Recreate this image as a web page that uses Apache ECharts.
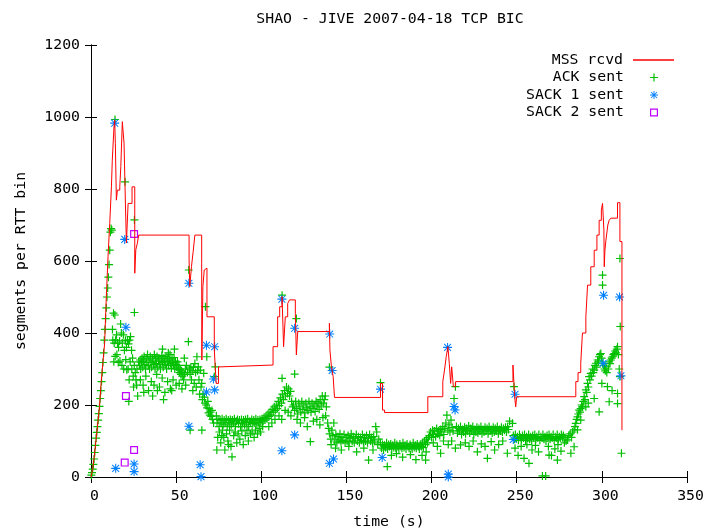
<!DOCTYPE html>
<html>
<head>
<meta charset="utf-8">
<script src="https://cdn.jsdelivr.net/npm/echarts@6/dist/echarts.min.js"></script>
<style>
  html, body { margin: 0; padding: 0; background: #fff; }
  #chart { width: 708px; height: 531px; }
</style>
</head>
<body>
<div id="chart"></div>
<script>
// data: [time (s), segments per RTT bin]
var mssRcvd = [
  [0,0],[1,22],[2,60],[3,105],[4,150],[5,196],[6,265],[7,318],[8,371],[9,501],[10,612],[11,704],
  [12,806],[12.5,880],[13.5,973],[13.9,992],[14.3,927],[14.9,769],[15.5,797],[16.9,806],[17.5,862],
  [18.4,987],[19.4,927],[20.2,761],[20.8,650],[21.8,760],[24.1,806],[25.7,566],[26.3,631],[27.2,649],
  [28.0,672],[57.6,603],[58.0,529],[59.0,584],[60.0,626],[61.0,672],[65.0,594],[65.1,325],[65.7,529],
  [66.5,575],[67.6,580],[68.1,445],[72.4,353],[73.5,260],[74.9,306],[76.3,311],[106.9,362],[109.6,445],
  [110.8,473],[112.2,501],[113.1,362],[114.1,445],[115.5,482],[116.6,492],[120.0,455],[120.6,339],
  [121.4,404],[140.0,427],[140.3,353],[141.2,306],[142.2,279],[143.0,221],[170.0,260],[171.2,186],
  [172.4,179],[197.8,223],[206.6,265],[207.6,297],[208.6,334],[209.6,362],[210.4,316],[211.2,260],
  [211.8,306],[212.8,251],[214.1,265],[247.8,311],[248.8,223],[249.4,195],[250.0,223],[284.7,265],
  [286.0,290],[287.6,316],[288.6,400],[290.6,445],[291.6,533],[293.5,584],[295.5,630],[297.1,672],
  [298.4,713],[299.7,742],[300.4,760],[301.2,686],[301.4,584],[301.8,630],[302.4,658],[303.5,700],
  [304.3,713],[305.3,719],[309.2,762],[310.6,654],[311.8,130]
];

var ackSent = [
  // slow start ramp
  [0.2,5],[0.6,12],[1.0,22],[1.4,35],[1.8,50],[2.2,68],[2.6,88],[3.0,108],[3.4,124],[3.8,140],
  [4.2,158],[4.6,176],[5.0,196],[5.4,218],[5.8,240],[6.2,265],[6.6,290],[7.0,318],[7.4,345],[7.8,380],
  [8.2,410],[8.6,440],[9.0,470],[9.4,500],[9.8,525],[10.2,555],[10.6,590],[11.0,630],[11.4,680],[11.8,690],
  [12.2,686],[14.1,993],[20.0,820],[25.5,714],[25.5,457],
  // 12-28 s
  [12.6,410],[13.2,455],[14.0,450],[12.8,380],[13.6,372],[14.4,380],[15.0,395],[15.6,372],[16.2,360],
  [16.8,378],[17.4,425],[17.8,400],[18.4,372],[19.0,395],[19.6,352],[20.2,380],[20.8,360],[21.4,378],
  [22.0,370],[22.6,380],[23.2,390],[23.8,352],[24.4,330],[13.4,320],[14.2,335],[15.2,340],[16.0,318],
  [17.0,322],[18.2,310],[19.2,300],[20.4,326],[21.0,298],[21.8,300],[22.4,270],[23.0,320],[24.0,300],
  [24.8,280],[25.4,310],[26.0,290],[26.8,255],[27.4,225],[22.2,210],[25.0,250],[26.4,270],[27.0,300],[28.0,320],
  // 28-55 s
  [28.4,310],[28.8,325],[29.2,300],[29.6,318],[30.0,330],[30.4,305],[30.8,322],[31.2,335],[31.6,312],
  [32.0,300],[32.4,328],[32.8,318],[33.2,340],[33.6,310],[34.0,325],[34.4,300],[34.8,335],[35.2,318],
  [35.6,305],[36.0,330],[36.4,322],[36.8,312],[37.2,340],[37.6,300],[38.0,328],[38.4,315],[38.8,335],
  [39.2,305],[39.6,322],[40.0,330],[40.4,312],[40.8,300],[41.2,325],[41.6,338],[42.0,318],[42.4,305],
  [42.8,330],[43.2,320],[43.6,312],[44.0,335],[44.4,300],[44.8,322],[45.2,330],[45.6,310],[46.0,325],
  [46.4,340],[46.8,315],[47.2,302],[47.6,328],[48.0,318],[48.4,310],[48.8,332],[49.2,300],[49.6,322],
  [50.0,312],[50.4,305],[50.8,320],[51.2,298],[51.6,310],[52.0,290],[52.4,300],[52.8,285],[53.2,295],
  [53.6,280],[54.0,290],[54.4,270],[55.0,285],
  [29.0,270],[30.6,255],[32.2,280],[33.8,240],[35.4,265],[37.0,255],[38.6,285],[40.2,250],[41.8,275],
  [43.4,235],[45.0,265],[46.6,245],[48.2,270],[50.0,255],[51.8,260],[53.4,245],[55.6,255],[31.0,235],
  [36.2,225],[39.0,240],[42.6,215],[47.4,240],[42.0,355],[45.4,345],[49.0,355],[54.8,330],
  // 55-74 s
  [55.4,300],[56.0,310],[56.6,290],[57.2,376],[57.4,575],[57.8,300],[58.2,285],[58.6,305],[59.0,270],
  [59.4,295],[59.8,240],[60.2,305],[60.6,260],[61.0,315],[61.4,290],[61.8,250],[62.2,334],[62.6,295],
  [63.0,306],[63.4,270],[63.8,230],[64.2,297],[64.6,250],[65.0,260],[65.4,215],[65.8,230],[66.2,288],
  [66.6,222],[67.0,205],[67.2,473],[67.6,200],[68.0,334],[68.2,192],[68.6,210],[69.0,178],[69.4,190],
  [69.8,172],[70.2,180],[70.6,168],[71.0,185],[71.4,160],[72.4,279],[73.0,306],[72.0,150],[58.2,130],
  [65.1,130],[73.6,170],
  // 74-101 s
  [74.0,150],[74.6,160],[75.2,140],[75.8,158],[76.4,150],[77.0,162],[77.6,145],[78.2,158],[78.8,150],
  [79.4,162],[80.0,140],[80.6,158],[81.2,152],[81.8,160],[82.4,145],[83.0,158],[83.6,150],[84.2,162],
  [84.8,140],[85.4,155],[86.0,160],[86.6,148],[87.2,158],[87.8,140],[88.4,160],[89.0,150],[89.6,158],
  [90.2,145],[90.8,160],[91.4,152],[92.0,162],[92.6,140],[93.2,155],[93.8,150],[94.4,160],[95.0,148],
  [95.6,158],[96.2,150],[96.8,162],[97.4,145],[98.0,158],[98.6,152],[99.2,160],[99.8,150],[100.4,162],
  [101.0,155],
  [74.4,110],[75.4,125],[76.2,95],[77.2,130],[78.0,110],[78.6,75],[79.6,120],[80.4,100],[81.4,130],
  [82.2,85],[82.8,56],[83.8,115],[84.6,125],[85.6,95],[86.4,120],[87.4,105],[88.6,128],[89.4,90],
  [90.6,115],[91.6,130],[92.4,100],[93.6,120],[94.6,125],[95.8,110],[96.6,130],[97.8,120],[98.8,135],
  [99.6,125],[100.8,140],[73.9,75],[76.8,115],[80.8,90],
  // 101-119 s
  [101.6,165],[102.2,158],[102.8,170],[103.4,162],[104.0,175],[104.6,168],[105.2,180],[105.8,172],
  [106.4,188],[107.0,180],[107.6,195],[108.2,185],[108.8,200],[109.4,190],[110.0,210],[110.6,198],
  [111.2,220],[111.8,205],[112.4,230],[113.0,215],[113.6,240],[114.2,225],[114.8,250],[115.4,232],
  [116.0,245],[116.6,225],[117.2,238],[117.8,210],[118.4,195],[104.4,140],[106.2,150],[108.0,160],
  [110.4,170],[112.0,160],[114.0,185],[115.8,180],[117.4,170],
  [112.2,505],[120.6,440],[112.2,274],[119.6,286],[128.8,98],
  // 119-140 s
  [119.0,200],[119.6,185],[120.2,210],[120.8,190],[121.4,175],[122.0,205],[122.6,195],[123.2,180],
  [123.8,210],[124.4,188],[125.0,200],[125.6,178],[126.2,205],[126.8,192],[127.4,185],[128.0,210],
  [128.6,195],[129.2,180],[129.8,205],[130.4,190],[131.0,200],[131.6,182],[132.2,210],[132.8,195],
  [133.4,205],[134.0,188],[134.6,215],[135.2,200],[135.8,225],[136.4,205],[137.0,215],[137.6,225],
  [138.2,195],[121.0,160],[123.0,150],[125.4,165],[127.0,140],[130.6,155],[132.6,160],[134.4,145],
  [136.2,165],[137.8,170],[139.0,150],[139.6,135],[140.0,305],
  // 140-170 s
  [140.2,120],[140.8,105],[141.4,130],[142.0,115],[142.6,150],[143.2,100],[143.8,118],[144.4,95],
  [145.0,112],[145.6,105],[146.2,120],[146.8,98],[147.4,110],[148.0,102],[148.6,118],[149.2,95],
  [149.8,110],[150.4,100],[151.0,115],[151.6,98],[152.2,108],[152.8,120],[153.4,100],[154.0,112],
  [154.6,95],[155.2,108],[155.8,118],[156.4,100],[157.0,112],[157.6,95],[158.2,110],[158.8,102],
  [159.4,118],[160.0,98],[160.6,110],[161.2,100],[161.8,115],[162.4,95],[163.0,108],[163.6,118],
  [164.2,100],[164.8,110],[165.4,95],[166.0,112],[166.6,100],[167.2,140],[167.8,125],[168.4,90],
  [169.0,105],[143.6,80],[147.0,75],[151.4,85],[156.0,70],[160.2,80],[163.0,47],[165.6,75],[141.0,90],
  [170.0,262],
  // 170-198 s
  [170.0,95],[170.6,80],[171.2,90],[171.8,75],[172.4,88],[173.0,82],[173.6,95],[174.2,78],[174.8,90],
  [175.4,85],[176.0,92],[176.6,78],[177.2,88],[177.8,82],[178.4,95],[179.0,80],[179.6,90],[180.2,85],
  [180.8,78],[181.4,92],[182.0,85],[182.6,80],[183.2,95],[183.8,82],[184.4,88],[185.0,78],[185.6,92],
  [186.2,85],[186.8,80],[187.4,90],[188.0,85],[188.6,78],[189.2,95],[189.8,82],[190.4,88],[191.0,80],
  [191.6,92],[192.2,85],[192.8,78],[193.4,90],[194.0,85],[194.6,95],[195.2,82],[195.8,100],[196.4,90],
  [197.0,105],[197.6,95],[198.2,110],[174.0,29],[176.4,60],[179.4,65],[183.0,55],[187.6,62],[190.8,48],
  [194.4,60],[196.8,70],
  // 198-247 s
  [198.8,115],[199.4,125],[200.0,110],[200.6,130],[201.2,118],[201.8,128],[202.4,112],[203.0,135],
  [203.6,120],[204.2,128],[204.8,115],[205.4,132],[206.0,125],[206.6,140],[207.2,118],[207.8,135],
  [208.4,150],[209.0,172],[209.6,130],[210.2,145],[210.8,125],[211.4,158],[212.0,138],[212.6,128],
  [213.2,218],[214.0,251],[214.6,140],[215.2,122],[215.8,135],[216.4,128],[217.0,140],[217.6,118],
  [218.2,132],[218.8,125],[219.4,138],[220.0,120],[220.6,135],[221.2,128],[221.8,142],[222.4,122],
  [223.0,135],[223.6,128],[224.2,140],[224.8,118],[225.4,132],[226.0,125],[226.6,138],[227.2,122],
  [227.8,135],[228.4,128],[229.0,140],[229.6,120],[230.2,132],[230.8,125],[231.4,138],[232.0,128],
  [232.6,135],[233.2,120],[233.8,140],[234.4,128],[235.0,132],[235.6,122],[236.2,138],[236.8,125],
  [237.4,135],[238.0,128],[238.6,140],[239.2,120],[239.8,132],[240.4,128],[241.0,138],[241.6,125],
  [242.2,135],[242.8,130],[243.4,138],[244.0,125],[244.6,140],[245.2,132],[245.8,155],
  [201.0,95],[203.4,85],[205.3,66],[207.0,100],[209.8,90],[211.8,100],[214.0,80],[217.0,89],[219.8,95],
  [222.0,85],[224.4,100],[226.9,70],[229.2,92],[231.4,85],[232.8,52],[235.0,98],[237.0,75],[239.4,90],
  [241.8,100],[244.5,66],[196.5,47],[248.4,251],[247.5,149],
  // 248-278 s
  [248.0,115],[248.6,105],[249.2,118],[249.8,108],[250.4,112],[251.0,102],[251.6,118],[252.2,110],
  [252.8,105],[253.4,115],[254.0,108],[254.6,118],[255.2,102],[255.8,112],[256.4,108],[257.0,118],
  [257.6,105],[258.2,112],[258.8,100],[259.4,115],[260.0,108],[260.6,118],[261.2,105],[261.8,112],
  [262.4,108],[263.0,118],[263.6,102],[264.2,112],[264.8,108],[265.4,118],[266.0,105],[266.6,112],
  [267.2,100],[267.8,115],[268.4,108],[269.0,118],[269.6,105],[270.2,112],[270.8,108],[271.4,118],
  [272.0,102],[272.6,112],[273.2,108],[273.8,118],[274.4,105],[275.0,112],[275.6,108],[276.2,118],
  [276.8,110],[277.4,115],
  [249.0,80],[250.8,60],[252.6,85],[254.3,52],[256.0,90],[257.2,38],[259.0,75],[261.0,88],[262.8,70],
  [265.1,3],[267.0,3],[268.6,85],[270.4,60],[272.4,78],[274.2,90],[276.0,72],[278.0,95],
  // 278-312 s
  [278.4,110],[279.0,100],[279.8,103],[280.6,115],[281.4,120],[282.2,110],[282.8,125],[283.7,131],
  [284.2,140],[284.7,149],[285.2,160],[285.7,167],[286.2,175],[286.7,186],[287.2,180],[287.6,190],
  [288.1,200],[288.6,195],[289.1,210],[289.6,223],[290.1,215],[290.6,242],[291.1,235],[291.6,260],
  [292.1,250],[292.5,279],[293.0,270],[293.5,288],[294.0,280],[294.5,300],[295.0,290],[295.5,297],
  [296.0,310],[296.5,316],[297.0,305],[297.5,325],[298.0,320],[298.4,334],[298.9,340],[299.4,343],
  [299.9,330],[300.4,316],[301.0,310],[301.5,300],[302.0,295],[302.4,306],[302.9,290],[303.3,251],
  [303.8,300],[304.3,320],[304.8,315],[305.3,325],[305.8,330],[306.3,334],[306.8,340],[307.3,343],
  [307.8,350],[308.3,345],[308.8,355],[309.2,362],[309.7,340],[310.2,300],[310.6,279],[304.3,209],
  [298.4,181],[295.5,218],[290.6,195],[292.0,205],[287.6,158],[285.7,131],[283.7,84],[281.8,66],
  [273.9,47],[269.0,61],[300.4,561],[300.4,533],[310.6,607],[310.8,418],[311.5,66],[309.2,204],
  [309.2,232],[306.0,240],[300.0,260]
];

var sack1Sent = [
  [13.9,983],[19.8,660],[20.5,416],[14.5,24],[25.3,36],[25.3,15],[57.5,538],[57.5,141],[64.1,34],
  [64.6,1],[67.8,366],[72.6,362],[71.9,272],[67.8,236],[72.6,242],[112.1,494],[119.6,413],[140.2,397],
  [141.6,296],[112.1,73],[119.6,117],[140.0,38],[142.4,50],[170.0,244],[171.0,54],[209.4,360],
  [213.2,196],[213.8,186],[249.0,230],[209.8,8],[209.8,0],[248.0,104],[301.0,505],[310.4,500],
  [300.8,316],[311.2,281]
];

var sack2Sent = [[25.3,675],[20.5,225],[25.3,75],[19.8,40]];

var FONT = 'DejaVu Sans Mono';
var FS = 14.8;

// gnuplot style point glyphs
var plusPath = 'path://M0,3.4L8,3.4L8,4.6L0,4.6Z M3.4,0L4.6,0L4.6,8L3.4,8Z';
var starPath = 'path://M0,4.4L10,4.4L10,5.6L0,5.6Z M4.4,0L5.6,0L5.6,10L4.4,10Z ' +
  'M0.8,1.6L1.6,0.8L9.2,8.4L8.4,9.2Z M8.4,0.8L9.2,1.6L1.6,9.2L0.8,8.4Z';
var boxPath = 'path://M0,0L8,0L8,8L0,8Z M1.2,1.2L1.2,6.8L6.8,6.8L6.8,1.2Z';

var chart = echarts.init(document.getElementById('chart'));

function legendItem(name, top, w, h, right, gap) {
  return {
    data: [name],
    right: right, top: top, padding: 0,
    align: 'right',
    itemWidth: w, itemHeight: h,
    selectedMode: false,
    textStyle: { fontFamily: FONT, fontSize: FS, color: '#000', lineHeight: 16, padding: [0, gap, 0, 0] }
  };
}

var mssLegend = legendItem('MSS rcvd', 52, 41, 1.5, 34, 5);
mssLegend.data = [{ name: 'MSS rcvd', icon: 'rect' }];

chart.setOption({
  animation: false,
  backgroundColor: '#fff',
  title: {
    text: 'SHAO - JIVE 2007-04-18 TCP BIC',
    left: 385, top: 7, textAlign: 'center',
    textStyle: { fontFamily: FONT, fontSize: FS, fontWeight: 'normal', color: '#000' }
  },
  legend: [
    mssLegend,
    legendItem('ACK sent', 69.5, 8, 8, 50, 21),
    legendItem('SACK 1 sent', 87, 8, 8, 50, 21),
    legendItem('SACK 2 sent', 104.5, 8, 8, 50, 21)
  ],
  grid: { left: 91, right: 21, top: 45, bottom: 54, outerBoundsMode: 'none', containLabel: false },
  xAxis: [{
    type: 'value', min: 0, max: 350, interval: 50,
    name: 'time (s)', nameLocation: 'middle', nameGap: 38,
    nameTextStyle: { fontFamily: FONT, fontSize: FS, color: '#000' },
    axisLine: { lineStyle: { color: '#000', width: 1 } },
    axisTick: { inside: true, length: 6, lineStyle: { color: '#000' } },
    axisLabel: { fontFamily: FONT, fontSize: FS, color: '#000', margin: 12, padding: [0, 0, 0, 7] },
    splitLine: { show: false }
  }, {
    type: 'value', min: 0, max: 350, interval: 50, position: 'top',
    axisLine: { lineStyle: { color: '#000', width: 1 } },
    axisTick: { inside: true, length: 6, lineStyle: { color: '#000' } },
    axisLabel: { show: false },
    splitLine: { show: false }
  }],
  yAxis: [{
    type: 'value', min: 0, max: 1200, interval: 200,
    name: 'segments per RTT bin', nameLocation: 'middle', nameGap: 62, nameRotate: 90,
    nameTextStyle: { fontFamily: FONT, fontSize: FS, color: '#000' },
    axisLine: { show: true, lineStyle: { color: '#000', width: 1 } },
    axisTick: { show: true, inside: true, length: 6, lineStyle: { color: '#000' } },
    axisLabel: {
      fontFamily: FONT, fontSize: FS, color: '#000', margin: 11,
      formatter: function (v) { return String(v); }
    },
    splitLine: { show: false }
  }, {
    type: 'value', min: 0, max: 1200, interval: 200, position: 'right',
    axisLine: { show: true, lineStyle: { color: '#000', width: 1 } },
    axisTick: { show: true, inside: true, length: 6, lineStyle: { color: '#000' } },
    axisLabel: { show: false },
    splitLine: { show: false }
  }],
  series: [{
    name: 'MSS rcvd', type: 'line', step: 'end',
    data: mssRcvd, symbol: 'none',
    itemStyle: { color: '#ff0000' },
    lineStyle: { color: '#ff0000', width: 1 }
  }, {
    name: 'ACK sent', type: 'scatter', data: ackSent,
    symbol: plusPath, symbolSize: 8, clip: false,
    itemStyle: { color: '#00c000', opacity: 1 }
  }, {
    name: 'SACK 1 sent', type: 'scatter', data: sack1Sent,
    symbol: starPath, symbolSize: 9, clip: false,
    itemStyle: { color: '#0080ff', opacity: 1 }
  }, {
    name: 'SACK 2 sent', type: 'scatter', data: sack2Sent,
    symbol: boxPath, symbolSize: 8, clip: false,
    itemStyle: { color: '#c000ff', opacity: 1 }
  }]
});
</script>
</body>
</html>
